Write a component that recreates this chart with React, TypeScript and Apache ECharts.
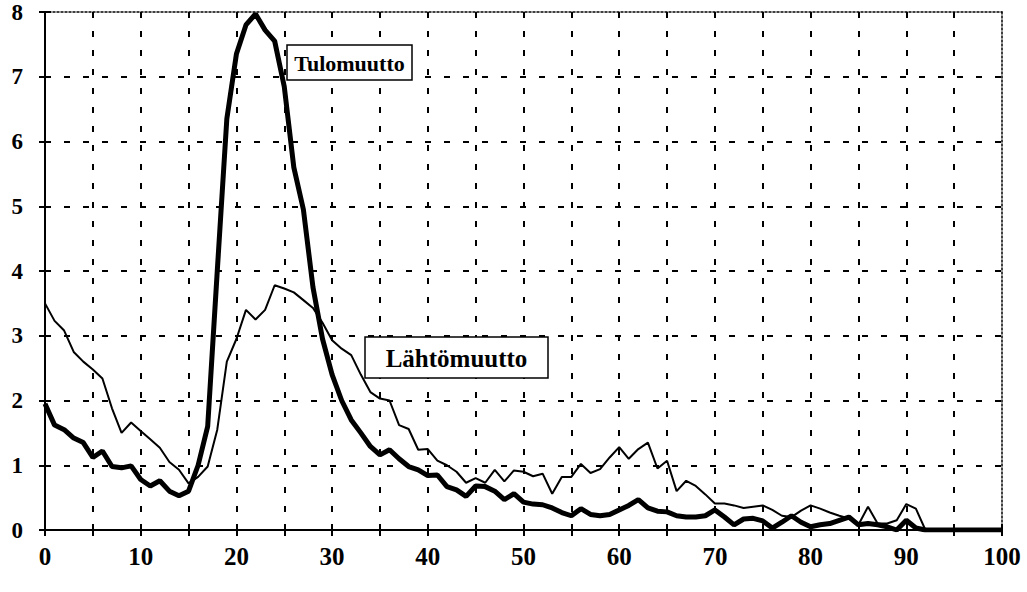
import React, { useEffect, useRef } from "react";
import * as echarts from "echarts";

const ages: number[] = Array.from({ length: 101 }, (_, i) => i);

const tulomuutto: number[] = [
  1.95, 1.62, 1.55, 1.42, 1.35, 1.12, 1.22, 0.98, 0.96, 0.99,
  0.78, 0.68, 0.76, 0.6, 0.53, 0.6, 1.0, 1.6, 4.0, 6.35,
  7.35, 7.8, 7.97, 7.72, 7.55, 6.85, 5.6, 4.95, 3.75, 2.95,
  2.4, 2.0, 1.7, 1.5, 1.29, 1.16, 1.24, 1.1, 0.98, 0.93,
  0.84, 0.85, 0.67, 0.62, 0.52, 0.68, 0.67, 0.6, 0.47, 0.56,
  0.43, 0.4, 0.39, 0.34, 0.27, 0.22, 0.33, 0.24, 0.22, 0.24,
  0.31, 0.38, 0.47, 0.34, 0.29, 0.28, 0.22, 0.2, 0.2, 0.22,
  0.31, 0.2, 0.08, 0.17, 0.18, 0.14, 0.03, 0.12, 0.22, 0.12,
  0.05, 0.08, 0.1, 0.15, 0.2, 0.08, 0.1, 0.08, 0.05, 0.0,
  0.15, 0.03, 0, 0, 0, 0, 0, 0, 0, 0, 0,
];

const lahtomuutto: number[] = [
  3.5, 3.23, 3.08, 2.75, 2.6, 2.48, 2.34, 1.88, 1.5, 1.66,
  1.53, 1.4, 1.27, 1.05, 0.93, 0.72, 0.82, 0.98, 1.55, 2.6,
  2.95, 3.4, 3.25, 3.4, 3.78, 3.73, 3.67, 3.55, 3.43, 3.2,
  2.93, 2.8, 2.7, 2.4, 2.13, 2.03, 2.0, 1.62, 1.56, 1.24,
  1.25, 1.07, 1.0, 0.9, 0.73, 0.8, 0.73, 0.93, 0.75, 0.92,
  0.9, 0.83, 0.87, 0.56, 0.82, 0.82, 1.02, 0.88, 0.94, 1.12,
  1.28, 1.1, 1.25, 1.35, 0.95, 1.07, 0.6, 0.76, 0.68, 0.55,
  0.41, 0.41, 0.38, 0.34, 0.36, 0.38, 0.31, 0.22, 0.2, 0.3,
  0.38, 0.33, 0.27, 0.22, 0.18, 0.08, 0.36, 0.1, 0.1, 0.15,
  0.4, 0.33, 0, 0, 0, 0, 0, 0, 0, 0, 0,
];

const seriesNames = ["Tulomuutto", "Lähtömuutto"];

const FONT = "serif";

export default function App() {
  const ref = useRef<HTMLDivElement>(null);
  useEffect(() => {
    document.body.style.margin = "0";
    if (!ref.current) return;
    const chart = echarts.init(ref.current, undefined, { renderer: "svg" });
    const black = "#000";
    const gridDash = { type: [6, 13] as any, color: black, width: 2 };
    const tickStyle = { color: black, width: 2 };
    const option: any = {
      animation: false,
      backgroundColor: "#fff",
      grid: { left: 45, right: 25, top: 12, bottom: 62 },
      xAxis: [
        {
          type: "value",
          min: 0,
          max: 100,
          interval: 5,
          position: "bottom",
          axisLine: { show: true, onZero: false, lineStyle: { color: black, width: 2 } },
          axisTick: { show: true, length: 6, lineStyle: tickStyle },
          axisLabel: {
            formatter: (v: number) => (v % 10 === 0 ? String(v) : ""),
            color: black,
            fontFamily: FONT,
            fontWeight: "bold",
            fontSize: 25,
            margin: 14,
          },
          splitLine: { show: true, showMinLine: false, showMaxLine: false, lineStyle: gridDash },
        },
        {
          type: "value",
          min: 0,
          max: 100,
          interval: 5,
          position: "bottom",
          axisLine: { show: false, onZero: false },
          axisTick: { show: true, inside: true, length: 6, lineStyle: tickStyle },
          axisLabel: { show: false },
          splitLine: { show: false },
        },
        {
          type: "value",
          min: 0,
          max: 100,
          position: "top",
          axisLine: { show: true, onZero: false, lineStyle: { type: [2, 2], color: black, width: 1.5 } },
          axisTick: { show: false },
          axisLabel: { show: false },
          splitLine: { show: false },
        },
      ],
      yAxis: [
        {
          type: "value",
          min: 0,
          max: 8,
          interval: 1,
          position: "left",
          axisLine: { show: true, onZero: false, lineStyle: { color: black, width: 2 } },
          axisTick: { show: true, length: 6, lineStyle: tickStyle },
          axisLabel: {
            color: black,
            fontFamily: FONT,
            fontWeight: "bold",
            fontSize: 23,
            margin: 22,
          },
          splitLine: { show: true, showMinLine: false, showMaxLine: false, lineStyle: gridDash },
        },
        {
          type: "value",
          min: 0,
          max: 8,
          interval: 1,
          position: "left",
          axisLine: { show: false, onZero: false },
          axisTick: { show: true, inside: true, length: 6, lineStyle: tickStyle },
          axisLabel: { show: false },
          splitLine: { show: false },
        },
        {
          type: "value",
          min: 0,
          max: 8,
          position: "right",
          axisLine: { show: true, onZero: false, lineStyle: { type: [2, 2], color: black, width: 1.5 } },
          axisTick: { show: false },
          axisLabel: { show: false },
          splitLine: { show: false },
        },
      ],
      series: [
        {
          name: seriesNames[0],
          type: "line",
          data: ages.map((a, i) => [a, tulomuutto[i]]),
          showSymbol: false,
          symbol: "none",
          lineStyle: { color: black, width: 5 },
          z: 5,
        },
        {
          name: seriesNames[1],
          type: "line",
          data: ages.map((a, i) => [a, lahtomuutto[i]]),
          showSymbol: false,
          symbol: "none",
          lineStyle: { color: black, width: 2 },
          z: 4,
        },
      ],
      graphic: [
        {
          type: "rect",
          z: 100,
          shape: { x: 287, y: 45, width: 125, height: 35 },
          style: { fill: "#fff", stroke: black, lineWidth: 1.5 },
        },
        {
          type: "text",
          z: 101,
          x: 349.5,
          y: 63,
          style: { text: seriesNames[0], fill: black, fontFamily: FONT, fontWeight: "bold", fontSize: 22, align: "center", verticalAlign: "middle" },
        },
        {
          type: "rect",
          z: 100,
          shape: { x: 365, y: 337, width: 183, height: 41 },
          style: { fill: "#fff", stroke: black, lineWidth: 1.5 },
        },
        {
          type: "text",
          z: 101,
          x: 456.5,
          y: 358,
          style: { text: seriesNames[1], fill: black, fontFamily: FONT, fontWeight: "bold", fontSize: 25, align: "center", verticalAlign: "middle" },
        },
      ],
    };
    chart.setOption(option);
    return () => chart.dispose();
  }, []);
  return <div ref={ref} style={{ width: 1027, height: 592 }} />;
}
